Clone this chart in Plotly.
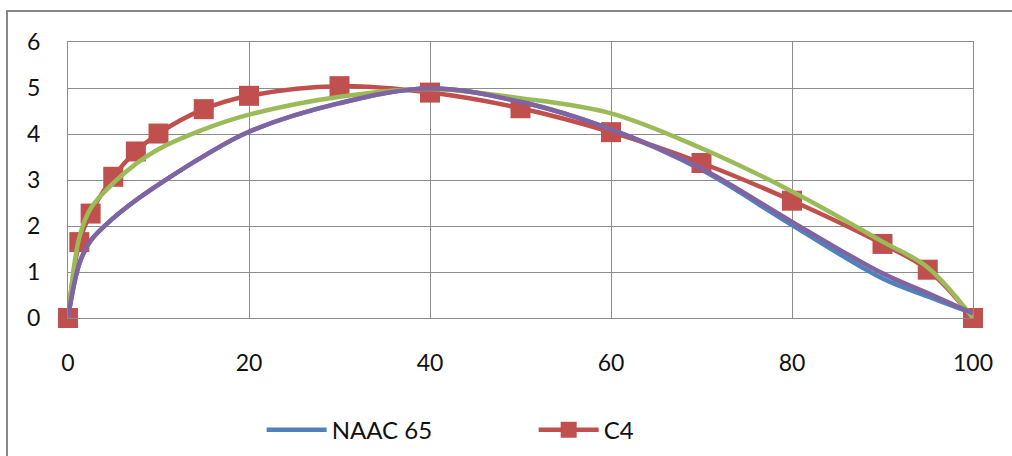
import plotly.graph_objects as go

# Shared x positions of the measurements
x_vals = [0, 1.25, 2.5, 5, 7.5, 10, 15, 20, 30, 40, 50, 60, 70, 80, 90, 95, 100]

naac65 = [0, 1.18, 1.68, 2.17, 2.56, 2.9, 3.52, 4.05, 4.67, 4.99, 4.7, 4.1, 3.22, 2.02, 0.86, 0.47, 0.1]
c4 = [0, 1.65, 2.27, 3.07, 3.62, 4.01, 4.54, 4.83, 5.04, 4.9, 4.56, 4.04, 3.37, 2.55, 1.61, 1.05, 0]
series3 = [0, 1.75, 2.38, 2.93, 3.35, 3.67, 4.1, 4.42, 4.81, 4.98, 4.78, 4.45, 3.69, 2.75, 1.66, 1.1, 0]
series4 = [0, 1.18, 1.68, 2.17, 2.56, 2.9, 3.52, 4.05, 4.67, 4.99, 4.7, 4.1, 3.25, 2.09, 0.97, 0.54, 0.1]

x_ticks = [0, 20, 40, 60, 80, 100]
y_ticks = [0, 1, 2, 3, 4, 5, 6]

BLUE = "#4F81BD"
RED = "#C0504D"
GREEN = "#9BBB59"
PURPLE = "#8064A2"
GRID = "#8C8C8C"
FONT = "Lato"
LW = 4.5

fig = go.Figure()

fig.add_trace(go.Scatter(
    x=x_vals, y=naac65, name="NAAC 65", mode="lines", cliponaxis=False,
    line=dict(color=BLUE, width=LW, shape="spline"),
))
fig.add_trace(go.Scatter(
    x=x_vals, y=c4, name="C4", mode="lines+markers", cliponaxis=False,
    line=dict(color=RED, width=LW, shape="spline"),
    marker=dict(symbol="square", size=20, color=RED),
))
fig.add_trace(go.Scatter(
    x=x_vals, y=series3, name="Series 3", mode="lines", showlegend=False, cliponaxis=False,
    line=dict(color=GREEN, width=LW, shape="spline"),
))
fig.add_trace(go.Scatter(
    x=x_vals, y=series4, name="Series 4", mode="lines", showlegend=False, cliponaxis=False,
    line=dict(color=PURPLE, width=LW, shape="spline"),
))

# Outer chart frame (runs off the right and bottom edges)
fig.add_shape(
    type="rect", xref="paper", yref="paper",
    x0=-0.0674, x1=1.2, y0=-1.0, y1=1.1123,
    line=dict(color="#878787", width=2), layer="below",
)

fig.update_layout(
    width=1012, height=456,
    margin=dict(l=68, r=39, t=42, b=138, autoexpand=False),
    paper_bgcolor="white", plot_bgcolor="white",
    font=dict(family=FONT, size=23, color="#111111"),
    xaxis=dict(
        range=[0, 100], tickvals=x_ticks, showgrid=True, gridcolor=GRID, gridwidth=1,
        zeroline=False, showline=True, linecolor=GRID, linewidth=1, mirror=True,
        ticks="", ticklabelstandoff=24, fixedrange=True,
    ),
    yaxis=dict(
        range=[0, 6], tickvals=y_ticks, showgrid=True, gridcolor=GRID, gridwidth=1,
        zeroline=False, showline=True, linecolor=GRID, linewidth=1, mirror=True,
        ticks="", ticklabelstandoff=22, fixedrange=True,
    ),
    legend=dict(
        orientation="h", x=0.214, y=-0.406, xanchor="left", yanchor="middle",
        font=dict(family=FONT, size=24, color="#111111"),
        itemwidth=60, entrywidth=197, bgcolor="rgba(0,0,0,0)",
    ),
    showlegend=True,
)

fig.write_html("out.html")
